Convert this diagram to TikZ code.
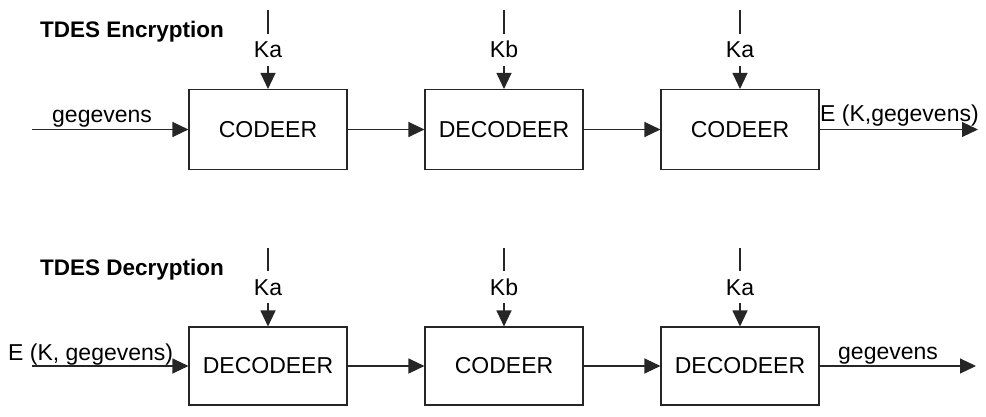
\documentclass[tikz,border=0pt]{standalone}
\usepackage{fontspec}
\setmainfont{Liberation Sans}
\usetikzlibrary{arrows.meta}

\begin{document}
\begin{tikzpicture}[x=1pt,y=-1pt,>={Triangle[length=16pt,width=15pt]},
  font=\fontsize{23}{27}\selectfont,
  blok/.style={draw=black!85,line width=1.1pt,minimum width=158pt,minimum height=80pt,inner sep=0pt},
  sleutel/.style={anchor=base,inner xsep=0pt,inner ysep=7.5pt},
  lbl/.style={anchor=base west,inner sep=0pt},
  lijn/.style={draw=black!85,line width=1.1pt}]
  \useasboundingbox (0,0) rectangle (986,417);
  % encryption row
  \node[lbl,font=\fontsize{22.5}{27}\selectfont\bfseries] (titel1) at (40,38) {TDES Encryption};
  \node[blok] (e1) at (268,129.5) {CODEER};
  \node[blok] (e2) at (504,129.5) {DECODEER};
  \node[blok] (e3) at (740,129.5) {CODEER};
  \coordinate (ein) at (32,129.5);
  \coordinate (eout) at (978,129.5);
  \node[lbl] (ingeg) at (52,123) {gegevens};
  \node[lbl] (uitgeg) at (820,122) {E (K,gegevens)};
  \draw[lijn,->] (ein) -- (e1);
  \draw[lijn,->] (e1) -- (e2);
  \draw[lijn,->] (e2) -- (e3);
  \draw[lijn,->] (e3) -- (eout);
  % keys on top
  \node[sleutel] (ka1) at (268,58) {Ka};
  \node[sleutel] (kb1) at (504,58) {Kb};
  \node[sleutel] (ka2) at (740,58) {Ka};
  \coordinate (ka1top) at (268,10);
  \coordinate (kb1top) at (504,10);
  \coordinate (ka2top) at (740,10);
  \draw[lijn] (ka1top) -- (ka1);
  \draw[lijn] (kb1top) -- (kb1);
  \draw[lijn] (ka2top) -- (ka2);
  \draw[lijn,->] (ka1) -- (e1);
  \draw[lijn,->] (kb1) -- (e2);
  \draw[lijn,->] (ka2) -- (e3);
  % decryption row
  \node[lbl,font=\fontsize{22.5}{27}\selectfont\bfseries] (titel2) at (40,275) {TDES Decryption};
  \node[blok,minimum height=78pt] (d1) at (268,366) {DECODEER};
  \node[blok,minimum height=78pt] (d2) at (504,366) {CODEER};
  \node[blok,minimum height=78pt] (d3) at (740,366) {DECODEER};
  \coordinate (din) at (32,366);
  \coordinate (dout) at (976,366);
  \node[lbl] (incijfer) at (8,360) {E (K, gegevens)};
  \node[lbl] (uitgeg2) at (838,359) {gegevens};
  \draw[lijn,->] (din) -- (d1);
  \draw[lijn,->] (d1) -- (d2);
  \draw[lijn,->] (d2) -- (d3);
  \draw[lijn,->] (d3) -- (dout);
  % keys on top
  \node[sleutel] (ka3) at (268,295) {Ka};
  \node[sleutel] (kb2) at (504,295) {Kb};
  \node[sleutel] (ka4) at (740,295) {Ka};
  \coordinate (ka3top) at (268,248);
  \coordinate (kb2top) at (504,248);
  \coordinate (ka4top) at (740,248);
  \draw[lijn] (ka3top) -- (ka3);
  \draw[lijn] (kb2top) -- (kb2);
  \draw[lijn] (ka4top) -- (ka4);
  \draw[lijn,->] (ka3) -- (d1);
  \draw[lijn,->] (kb2) -- (d2);
  \draw[lijn,->] (ka4) -- (d3);
\end{tikzpicture}
\end{document}
